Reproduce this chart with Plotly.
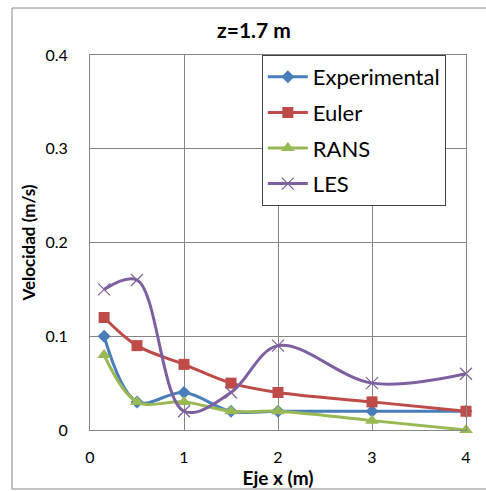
import plotly.graph_objects as go

x_vals = [0.15, 0.5, 1, 1.5, 2, 3, 4]
experimental = [0.10, 0.03, 0.04, 0.02, 0.02, 0.02, 0.02]
euler = [0.12, 0.09, 0.07, 0.05, 0.04, 0.03, 0.02]
rans = [0.08, 0.03, 0.03, 0.02, 0.02, 0.01, 0.0]
les = [0.15, 0.16, 0.02, 0.04, 0.09, 0.05, 0.06]

x_ticks = [0, 1, 2, 3, 4]
y_ticks = [0, 0.1, 0.2, 0.3, 0.4]
y_ticktext = ["0", "0.1", "0.2", "0.3", "0.4"]

FONT = "Lato"
GRID = "#868686"

series = [
    ("Experimental", experimental, "#4A7EBB", dict(symbol="diamond", size=10)),
    ("Euler", euler, "#BE4B48", dict(symbol="square", size=11)),
    ("RANS", rans, "#98B954", dict(symbol="triangle-up", size=12)),
    ("LES", les, "#7D60A0", dict(symbol="x-thin-open", size=12, line=dict(width=1.2, color="#7D60A0"))),
]

fig = go.Figure()
for i, (name, vals, color, marker) in enumerate(series):
    m = dict(color=color, **marker)
    fig.add_trace(go.Scatter(
        x=x_vals, y=vals, name=name, mode="lines+markers",
        line=dict(color=color, width=3, shape="spline", smoothing=1.0),
        marker=m, legendgroup=f"g{i}", cliponaxis=False,
    ))

fig.update_layout(
    width=486, height=491,
    margin=dict(l=90, r=20, t=55, b=61),
    paper_bgcolor="white", plot_bgcolor="white",
    font=dict(family=FONT, size=16, color="#000000"),
    title=dict(text="<b>z=1.7 m</b>", x=254 / 486, xanchor="center", xref="container",
               y=1 - 31 / 491, yanchor="middle", font=dict(size=21, family=FONT)),
    showlegend=True,
    legend=dict(x=0.457, y=1.0, xanchor="left", yanchor="top",
                bgcolor="white", bordercolor="#404040", borderwidth=1,
                font=dict(size=22, family=FONT), tracegroupgap=4,
                itemwidth=40),
    xaxis=dict(range=[0, 4], tickvals=x_ticks, showgrid=True, gridcolor=GRID, gridwidth=1,
               showline=True, linecolor=GRID, linewidth=1, mirror=True, zeroline=False,
               ticks="", tickfont=dict(size=16), ticklabelstandoff=13, automargin=False,
               title=dict(text="<b>Eje x (m)</b>", font=dict(size=19), standoff=3)),
    yaxis=dict(range=[0, 0.4], tickvals=y_ticks, ticktext=y_ticktext, showgrid=True,
               gridcolor=GRID, gridwidth=1, showline=True, linecolor=GRID, linewidth=1,
               mirror=True, zeroline=False, ticks="", tickfont=dict(size=16),
               ticklabelstandoff=18, automargin=False,
               title=dict(text="<b>Velocidad (m/s)</b>", font=dict(size=17), standoff=5)),
)

fig.add_shape(type="rect", xref="paper", yref="paper",
              x0=(12 - 90) / 376, x1=(490 - 90) / 376,
              y0=(430 - 489) / 375, y1=(430 - 8) / 375,
              line=dict(color="#868686", width=1), fillcolor="rgba(0,0,0,0)", layer="below")

fig.write_html("out.html", config={"displayModeBar": False},
               post_script="document.body.style.margin='0';")
